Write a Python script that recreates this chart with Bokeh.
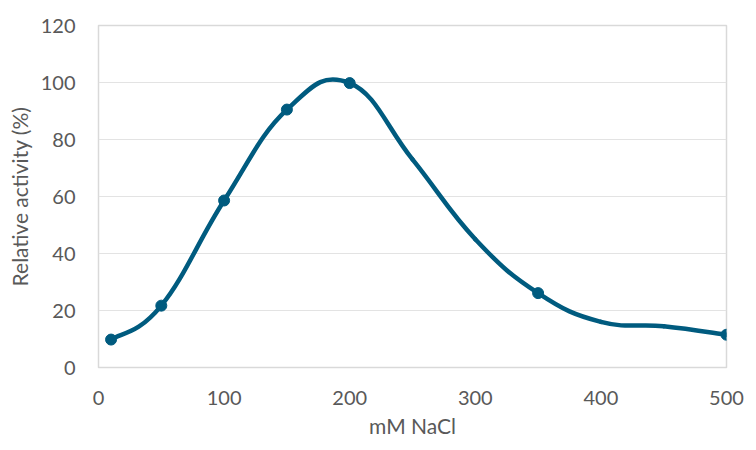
import numpy as np
from bokeh.plotting import figure
from bokeh.models import Range1d, FixedTicker, ColumnDataSource
from bokeh.embed import file_html
from bokeh.resources import INLINE

# measured points (markers)
nacl_mM = [10, 50, 100, 150, 200, 350, 500]
activity = [9.8, 21.7, 58.6, 90.5, 99.8, 26.1, 11.5]

# smoothed trend line nodes
curve_x = [10, 50, 100, 150, 200, 250, 300, 350, 400, 450, 500]
curve_y = [9.8, 21.7, 58.6, 90.5, 99.8, 73, 45, 26.1, 16, 14.5, 11.5]

x_ticks = [0, 100, 200, 300, 400, 500]
y_ticks = [0, 20, 40, 60, 80, 100, 120]

LINE = "#005B7F"
TXT = "#595959"
FONT = "Lato"

p = figure(width=748, height=442, output_backend="svg", toolbar_location=None,
           x_range=Range1d(0, 500), y_range=Range1d(0, 120),
           min_border_left=98, min_border_right=22, min_border_top=25, min_border_bottom=75)
p.frame_width = 628
p.frame_height = 342

# smooth curve via cubic Bezier segments (Catmull-Rom style control points)
k = 0.21
cx = np.array(curve_x, dtype=float)
cy = np.array(curve_y, dtype=float)
px = np.concatenate([[cx[0]], cx, [cx[-1]]])
py = np.concatenate([[cy[0]], cy, [cy[-1]]])
n = len(cx)
src = ColumnDataSource(dict(
    x0=cx[:-1], y0=cy[:-1], x1=cx[1:], y1=cy[1:],
    cx0=cx[:-1] + (px[2:n + 1] - px[0:n - 1]) * k,
    cy0=cy[:-1] + (py[2:n + 1] - py[0:n - 1]) * k,
    cx1=cx[1:] - (px[3:n + 2] - px[1:n]) * k,
    cy1=cy[1:] - (py[3:n + 2] - py[1:n]) * k,
))
p.bezier(x0="x0", y0="y0", x1="x1", y1="y1", cx0="cx0", cy0="cy0", cx1="cx1", cy1="cy1",
         source=src, line_color=LINE, line_width=4.5, line_cap="round")

p.scatter(nacl_mM, activity, marker="circle", size=11, fill_color=LINE, line_color=LINE)

p.outline_line_color = "#D9D9D9"
p.outline_line_width = 1.5
p.xgrid.grid_line_color = None
p.ygrid.grid_line_color = "#E3E3E3"
p.ygrid.grid_line_width = 1.2

p.xaxis.ticker = FixedTicker(ticks=x_ticks)
p.yaxis.ticker = FixedTicker(ticks=y_ticks)
for ax in (p.xaxis[0], p.yaxis[0]):
    ax.axis_line_color = None
    ax.major_tick_line_color = None
    ax.minor_tick_line_color = None
    ax.major_label_text_font = FONT
    ax.major_label_text_font_size = "20px"
    ax.major_label_text_color = TXT
    ax.axis_label_text_font = FONT
    ax.axis_label_text_font_style = "normal"
    ax.axis_label_text_color = TXT

p.xaxis.axis_label = "mM NaCl"
p.yaxis.axis_label = "Relative activity (%)"
p.xaxis.axis_label_text_font_size = "21px"
p.yaxis.axis_label_text_font_size = "21px"
p.xaxis.major_label_standoff = 17
p.yaxis.major_label_standoff = 17
p.xaxis.axis_label_standoff = 5
p.yaxis.axis_label_standoff = 6

open("out.html", "w").write(file_html(p, INLINE))
